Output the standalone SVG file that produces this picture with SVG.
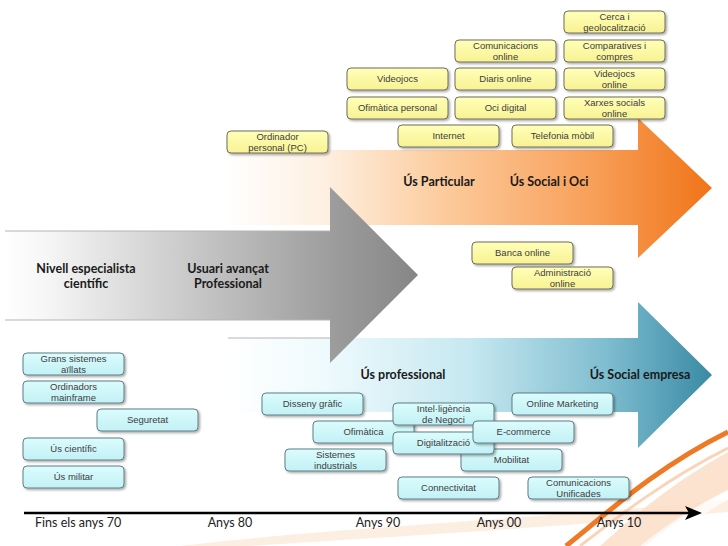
<svg xmlns="http://www.w3.org/2000/svg" width="728" height="546" viewBox="0 0 728 546">
<defs>
  <linearGradient id="gOr" gradientUnits="userSpaceOnUse" x1="225" y1="0" x2="712" y2="0">
    <stop offset="0" stop-color="#ffffff"/>
    <stop offset="0.2" stop-color="#fef0e2"/>
    <stop offset="0.45" stop-color="#fccb9c"/>
    <stop offset="0.75" stop-color="#f8a05a"/>
    <stop offset="1" stop-color="#f07418"/>
  </linearGradient>
  <linearGradient id="gGr" gradientUnits="userSpaceOnUse" x1="5" y1="0" x2="417" y2="0">
    <stop offset="0" stop-color="#ffffff"/>
    <stop offset="0.1" stop-color="#f6f6f6"/>
    <stop offset="0.5" stop-color="#c2c2c2"/>
    <stop offset="0.8" stop-color="#9c9c9c"/>
    <stop offset="1" stop-color="#868686"/>
  </linearGradient>
  <linearGradient id="gTe" gradientUnits="userSpaceOnUse" x1="228" y1="0" x2="712" y2="0">
    <stop offset="0" stop-color="#ffffff"/>
    <stop offset="0.2" stop-color="#eefafd"/>
    <stop offset="0.5" stop-color="#c6e8f0"/>
    <stop offset="0.78" stop-color="#7fbdd0"/>
    <stop offset="1" stop-color="#3a8aa4"/>
  </linearGradient>
  <linearGradient id="gy" x1="0" y1="0" x2="0" y2="1">
    <stop offset="0" stop-color="#ffffb8"/>
    <stop offset="1" stop-color="#f8f294"/>
  </linearGradient>
  <linearGradient id="gc" x1="0" y1="0" x2="0" y2="1">
    <stop offset="0" stop-color="#dcfcfd"/>
    <stop offset="1" stop-color="#c2f1f5"/>
  </linearGradient>
  <filter id="sh" x="-10%" y="-20%" width="130%" height="160%">
    <feDropShadow dx="1.5" dy="1.5" stdDeviation="1" flood-color="#000" flood-opacity="0.35"/>
  </filter>
  <style>
    .by { fill: url(#gy); stroke: #6e6e5c; stroke-width: 1; filter: url(#sh); }
    .bc { fill: url(#gc); stroke: #5f7f84; stroke-width: 1; filter: url(#sh); }
    .t { font-family: "Liberation Sans", Arial, sans-serif; font-size: 9.5px; fill: #3c3c3c; text-anchor: middle; }
    .b { font-family: Lato, "Liberation Sans", sans-serif; font-size: 12.5px; font-weight: bold; fill: #1a1a1a; text-anchor: middle; }
    .tl { font-family: Lato, "Liberation Sans", sans-serif; font-size: 12.5px; fill: #222; }
    .edge { stroke: #b4b4b4; stroke-width: 1; fill: none; }
  </style>
</defs>

<rect width="728" height="546" fill="#ffffff"/>

<!-- decorative swooshes -->
<g id="decor">
  <path d="M180,546 C330,528 520,520 728,500 L728,512 C520,530 340,540 250,546 Z" fill="#fbe3cf" opacity="0.6"/>
  <path d="M600,546 C640,510 680,478 728,452 L728,490 C700,505 670,526 645,546 Z" fill="#fbdcc4" opacity="0.8"/>
  <path d="M640,546 C670,522 700,503 728,490 L728,500 C705,512 680,530 660,546 Z" fill="#fff" opacity="0.7"/>
  <path d="M566,546 C605,515 655,468 728,432" fill="none" stroke="#ee7a26" stroke-width="5"/>
  <path d="M580,546 C620,515 668,478 728,448" fill="none" stroke="#f6b88a" stroke-width="3" opacity="0.6"/>
</g>

<!-- big arrows -->
<g id="arrows">
  <path id="arrow-orange" d="M225,150 L638,150 L638,118 L712,188 L638,258 L638,225 L225,225 Z" fill="url(#gOr)"/>
  <path id="arrow-teal" d="M228,338 L638,338 L638,302 L712,375 L638,448 L638,412 L228,412 Z" fill="url(#gTe)"/>
  <line class="edge" x1="228" y1="338" x2="330" y2="338"/>
  <path id="arrow-gray" d="M5,231 L330,231 L330,187 L418,275 L330,363 L330,320 L5,320 Z" fill="url(#gGr)"/>
  <line class="edge" x1="5" y1="231" x2="330" y2="231"/>
  <line class="edge" x1="5" y1="320" x2="330" y2="320"/>
</g>

<!-- arrow labels -->
<g id="labels">
  <text class="b" x="439" y="186">Ús Particular</text>
  <text class="b" x="549" y="186">Ús Social i Oci</text>
  <text class="b" x="86" y="273">Nivell especialista</text>
  <text class="b" x="86" y="288">científic</text>
  <text class="b" x="228" y="273">Usuari avançat</text>
  <text class="b" x="228" y="288">Professional</text>
  <text class="b" x="403" y="379">Ús professional</text>
  <text class="b" x="640" y="379">Ús Social empresa</text>
</g>

<!-- yellow nodes -->
<g id="n-cerca"><rect class="by" x="564" y="11" width="101" height="22" rx="4"/><text class="t" x="614.5" y="20.2">Cerca i</text><text class="t" x="614.5" y="30.9">geolocalització</text></g>
<g id="n-comunicacions-online"><rect class="by" x="455" y="40" width="101" height="22" rx="4"/><text class="t" x="505.5" y="49.2">Comunicacions</text><text class="t" x="505.5" y="59.9">online</text></g>
<g id="n-comparatives"><rect class="by" x="564" y="40" width="101" height="22" rx="4"/><text class="t" x="614.5" y="49.2">Comparatives i</text><text class="t" x="614.5" y="59.9">compres</text></g>
<g id="n-videojocs"><rect class="by" x="347" y="68" width="101" height="22" rx="4"/><text class="t" x="397.5" y="82.4">Videojocs</text></g>
<g id="n-diaris"><rect class="by" x="455" y="68" width="101" height="22" rx="4"/><text class="t" x="505.5" y="82.4">Diaris online</text></g>
<g id="n-videojocs-online"><rect class="by" x="564" y="68" width="101" height="22" rx="4"/><text class="t" x="614.5" y="77.2">Videojocs</text><text class="t" x="614.5" y="87.9">online</text></g>
<g id="n-ofimatica-personal"><rect class="by" x="347" y="97" width="101" height="22" rx="4"/><text class="t" x="397.5" y="111.4">Ofimàtica personal</text></g>
<g id="n-oci"><rect class="by" x="455" y="97" width="101" height="22" rx="4"/><text class="t" x="505.5" y="111.4">Oci digital</text></g>
<g id="n-xarxes"><rect class="by" x="564" y="97" width="101" height="22" rx="4"/><text class="t" x="614.5" y="106.2">Xarxes socials</text><text class="t" x="614.5" y="116.9">online</text></g>
<g id="n-internet"><rect class="by" x="398" y="125" width="101" height="22" rx="4"/><text class="t" x="448.5" y="139.4">Internet</text></g>
<g id="n-telefonia"><rect class="by" x="512" y="125" width="101" height="22" rx="4"/><text class="t" x="562.5" y="139.4">Telefonia mòbil</text></g>
<g id="n-ordinador"><rect class="by" x="227" y="131" width="101" height="22" rx="4"/><text class="t" x="277.5" y="140.2">Ordinador</text><text class="t" x="277.5" y="150.9">personal (PC)</text></g>
<g id="n-banca"><rect class="by" x="472" y="242" width="101" height="22" rx="4"/><text class="t" x="522.5" y="256.4">Banca online</text></g>
<g id="n-administracio"><rect class="by" x="512" y="267" width="101" height="22" rx="4"/><text class="t" x="562.5" y="276.2">Administració</text><text class="t" x="562.5" y="286.9">online</text></g>

<!-- cyan nodes -->
<g id="n-grans"><rect class="bc" x="23" y="353" width="101" height="22" rx="4"/><text class="t" x="73.5" y="362.2">Grans sistemes</text><text class="t" x="73.5" y="372.9">aïllats</text></g>
<g id="n-mainframe"><rect class="bc" x="23" y="381" width="101" height="22" rx="4"/><text class="t" x="73.5" y="390.2">Ordinadors</text><text class="t" x="73.5" y="400.9">mainframe</text></g>
<g id="n-seguretat"><rect class="bc" x="97" y="409" width="101" height="22" rx="4"/><text class="t" x="147.5" y="423.4">Seguretat</text></g>
<g id="n-cientific"><rect class="bc" x="23" y="438" width="101" height="22" rx="4"/><text class="t" x="73.5" y="452.4">Ús científic</text></g>
<g id="n-militar"><rect class="bc" x="23" y="466" width="101" height="22" rx="4"/><text class="t" x="73.5" y="480.4">Ús militar</text></g>
<g id="n-disseny"><rect class="bc" x="262" y="393" width="101" height="22" rx="4"/><text class="t" x="312.5" y="407.4">Disseny gràfic</text></g>
<g id="n-online-marketing"><rect class="bc" x="512" y="393" width="101" height="22" rx="4"/><text class="t" x="562.5" y="407.4">Online Marketing</text></g>
<g id="n-ofimatica"><rect class="bc" x="313" y="421" width="101" height="22" rx="4"/><text class="t" x="363.5" y="435.4">Ofimàtica</text></g>
<g id="n-sistemes"><rect class="bc" x="285" y="449" width="101" height="22" rx="4"/><text class="t" x="335.5" y="458.2">Sistemes</text><text class="t" x="335.5" y="468.9">industrials</text></g>
<g id="n-mobilitat"><rect class="bc" x="461" y="449" width="101" height="22" rx="4"/><text class="t" x="511.5" y="463.4">Mobilitat</text></g>
<g id="n-intel"><rect class="bc" x="393" y="403" width="101" height="22" rx="4"/><text class="t" x="443.5" y="412.2">Intel·ligència</text><text class="t" x="443.5" y="422.9">de Negoci</text></g>
<g id="n-digitalitzacio"><rect class="bc" x="393" y="432" width="101" height="22" rx="4"/><text class="t" x="443.5" y="446.4">Digitalització</text></g>
<g id="n-ecommerce"><rect class="bc" x="473" y="421" width="101" height="22" rx="4"/><text class="t" x="523.5" y="435.4">E-commerce</text></g>
<g id="n-connectivitat"><rect class="bc" x="398" y="477" width="101" height="22" rx="4"/><text class="t" x="448.5" y="491.4">Connectivitat</text></g>
<g id="n-comunicacions-unificades"><rect class="bc" x="528" y="477" width="101" height="22" rx="4"/><text class="t" x="578.5" y="486.2">Comunicacions</text><text class="t" x="578.5" y="496.9">Unificades</text></g>

<!-- timeline -->
<g id="connectors">
  <line x1="24" y1="513" x2="692" y2="513" stroke="#000" stroke-width="2.6"/>
  <path d="M685,506 L702,513 L685,520 L689,513 Z" fill="#000"/>
</g>
<g id="timeline-labels">
  <text class="tl" x="35" y="527">Fins els anys 70</text>
  <text class="tl" x="230" y="527" text-anchor="middle">Anys 80</text>
  <text class="tl" x="378" y="527" text-anchor="middle">Anys 90</text>
  <text class="tl" x="499" y="527" text-anchor="middle">Anys 00</text>
  <text class="tl" x="619" y="527" text-anchor="middle">Anys 10</text>
</g>
</svg>
